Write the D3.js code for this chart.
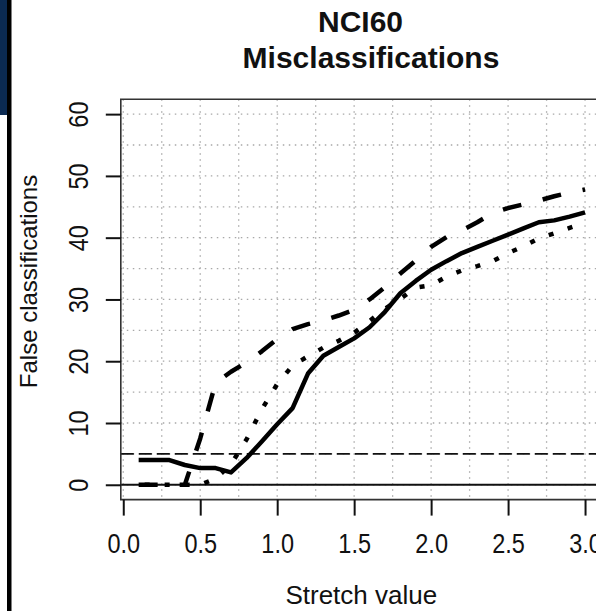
<!DOCTYPE html>
<html>
<head>
    <title>NCI60 Misclassifications</title>
    <style>
        body { margin: 0; background: #fff; }
        text { font-family: "Liberation Sans", Arial, sans-serif; fill: #111; }
    </style>
    <script src="https://d3js.org/d3.v7.min.js"></script>
</head>
<body>
    <div id="chart"></div>

    <script>
        // values
        var stretch = [0.1, 0.2, 0.3, 0.4, 0.5, 0.6, 0.7, 0.8, 0.9, 1.0,
                       1.1, 1.2, 1.3, 1.4, 1.5, 1.6, 1.7, 1.8, 1.9, 2.0,
                       2.1, 2.2, 2.3, 2.4, 2.5, 2.6, 2.7, 2.8, 2.9, 3.0];
        var solidVals = [4.0, 4.0, 4.0, 3.2, 2.7, 2.7, 2.0, 4.3, 7.0, 9.8,
                         12.4, 18.0, 20.9, 22.3, 23.7, 25.5, 28.0, 31.0, 33.0, 34.8,
                         36.2, 37.5, 38.5, 39.5, 40.5, 41.5, 42.5, 42.8, 43.4, 44.1];
        var dashedVals = [0, 0, 0, 0, 7.5, 16.5, 18.3, 19.8, 21.6, 23.6,
                          25.2, 26.0, 26.6, 27.4, 28.3, 30.0, 32.0, 34.2, 36.3, 38.5,
                          40.1, 41.2, 42.5, 44.0, 44.8, 45.4, 46.0, 46.7, 47.3, 47.8];
        var dottedVals = [0, 0, 0, 0, 0, 1.0, 3.3, 7.3, 12.2, 16.3,
                          19.3, 20.8, 22.2, 23.3, 24.6, 26.5, 28.5, 30.1, 31.9, 32.3,
                          33.7, 34.7, 35.4, 36.2, 37.5, 38.6, 39.9, 40.7, 41.6, 42.4];
        var xTicks = [0, 0.5, 1.0, 1.5, 2.0, 2.5, 3.0];
        var yTicks = [0, 10, 20, 30, 40, 50, 60];
        var xGrid = [0, 0.25, 0.5, 0.75, 1.0, 1.25, 1.5, 1.75, 2.0, 2.25, 2.5, 2.75, 3.0];
        var yGrid = [0, 5, 10, 15, 20, 25, 30, 35, 40, 45, 50, 55, 60];
        var refLines = [0, 5];

        var W = 596, H = 611;
        var svg = d3.select('#chart').append('svg')
            .attr('width', W)
            .attr('height', H);

        // the strip on the left edge
        svg.append('rect').attr('x', 0).attr('y', 0).attr('width', 7).attr('height', 115).attr('fill', '#0b2a52');
        svg.append('rect').attr('x', 7).attr('y', 0).attr('width', 4.5).attr('height', H).attr('fill', '#000');

        var x = d3.scaleLinear().domain([-0.016, 3.116]).range([120.8, 602.9]);
        var y = d3.scaleLinear().domain([-2.4, 62.4]).range([499.6, 99.3]);

        // grid
        svg.append('g').selectAll('line')
            .data(xGrid)
            .enter()
            .append('line')
            .attr('x1', function(d) { return x(d); })
            .attr('x2', function(d) { return x(d); })
            .attr('y1', y(62.4))
            .attr('y2', y(-2.4))
            .attr('stroke', '#a8a8a8')
            .attr('stroke-width', 1.3)
            .attr('stroke-dasharray', '1.5,4.5');

        svg.append('g').selectAll('line')
            .data(yGrid)
            .enter()
            .append('line')
            .attr('x1', x(-0.016))
            .attr('x2', W)
            .attr('y1', function(d) { return y(d); })
            .attr('y2', function(d) { return y(d); })
            .attr('stroke', '#a8a8a8')
            .attr('stroke-width', 1.3)
            .attr('stroke-dasharray', '1.5,4.5');

        // reference lines at 0 and 5
        svg.append('g').selectAll('line')
            .data(refLines)
            .enter()
            .append('line')
            .attr('x1', x(-0.016))
            .attr('x2', W)
            .attr('y1', function(d) { return y(d); })
            .attr('y2', function(d) { return y(d); })
            .attr('stroke', '#111')
            .attr('stroke-width', 1.8)
            .attr('stroke-dasharray', function(d) { return d === 0 ? null : '13,5'; });

        // curves
        var line = d3.line()
            .x(function(d) { return x(d[0]); })
            .y(function(d) { return y(d[1]); });

        var series = [
            { vals: dashedVals, dash: '19,22', offset: 0 },
            { vals: dottedVals, dash: '5,15', offset: 14 },
            { vals: solidVals, dash: null, offset: 0 }
        ];

        series.forEach(function(s) {
            svg.append('path')
                .datum(d3.zip(stretch, s.vals))
                .attr('d', line)
                .attr('fill', 'none')
                .attr('stroke', '#000')
                .attr('stroke-width', 4.5)
                .attr('stroke-linejoin', 'round')
                .attr('stroke-dasharray', s.dash)
                .attr('stroke-dashoffset', s.offset);
        });

        // box
        svg.append('path')
            .attr('d', 'M' + W + ',' + y(62.4) + 'H' + x(-0.016) + 'V' + y(-2.4) + 'H' + W)
            .attr('fill', 'none')
            .attr('stroke', '#333')
            .attr('stroke-width', 1.6);

        // axes
        var xAxis = svg.append('g')
            .attr('transform', 'translate(0,' + y(-2.4) + ')')
            .call(d3.axisBottom(x).tickValues(xTicks).tickSize(16).tickFormat(d3.format('.1f')));
        xAxis.select('.domain').remove();
        xAxis.selectAll('line').attr('stroke', '#111').attr('stroke-width', 2);
        xAxis.selectAll('text')
            .attr('y', 53)
            .attr('dy', 0)
            .attr('transform', 'scale(0.87,1)')
            .style('font-size', '27px')
            .style('font-family', '"Liberation Sans", Arial, sans-serif')
            .attr('fill', '#111');

        var yAxis = svg.append('g')
            .attr('transform', 'translate(' + x(-0.016) + ',0)')
            .call(d3.axisLeft(y).tickValues(yTicks).tickSize(15));
        yAxis.select('.domain').remove();
        yAxis.selectAll('line').attr('stroke', '#111').attr('stroke-width', 2);
        yAxis.selectAll('text')
            .attr('x', 0)
            .attr('y', -33)
            .attr('dy', 0)
            .attr('text-anchor', 'middle')
            .attr('transform', 'rotate(-90) scale(0.87,1)')
            .style('font-size', '27px')
            .style('font-family', '"Liberation Sans", Arial, sans-serif')
            .attr('fill', '#111');

        // titles
        svg.append('text')
            .attr('x', 360.5)
            .attr('y', 32)
            .attr('text-anchor', 'middle')
            .style('font-size', '30px')
            .style('font-weight', 'bold')
            .text('NCI60');

        svg.append('text')
            .attr('x', 371)
            .attr('y', 68)
            .attr('text-anchor', 'middle')
            .style('font-size', '30px')
            .style('font-weight', 'bold')
            .text('Misclassifications');

        svg.append('text')
            .attr('x', 361.3)
            .attr('y', 604)
            .attr('text-anchor', 'middle')
            .style('font-size', '26px')
            .text('Stretch value');

        svg.append('text')
            .attr('transform', 'rotate(-90)')
            .attr('x', -281.5)
            .attr('y', 36.5)
            .attr('text-anchor', 'middle')
            .style('font-size', '24px')
            .text('False classifications');
    </script>
</body>
</html>
